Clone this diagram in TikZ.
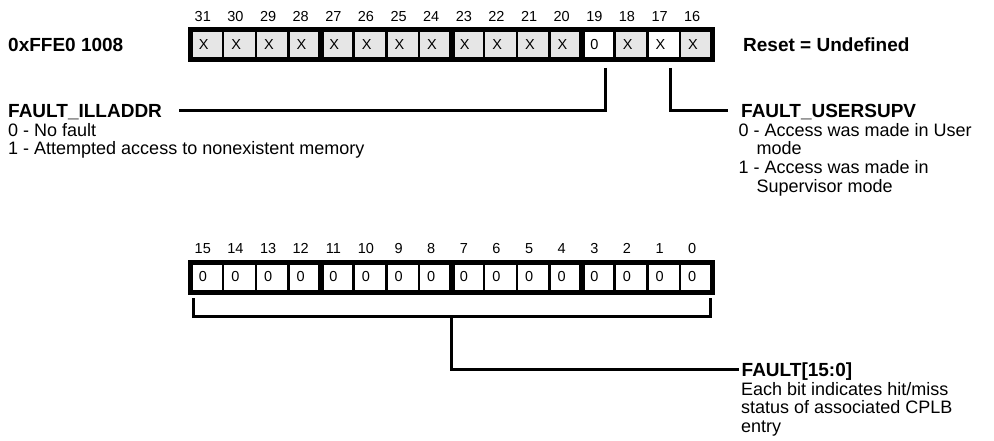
\documentclass[tikz,border=0pt]{standalone}
\usepackage{fontspec}
\setmainfont{Liberation Sans}
\usetikzlibrary{positioning, calc}
\definecolor{resgray}{RGB}{230,230,230}

\begin{document}
\begin{tikzpicture}[x=1pt, y=-1pt,
      cell/.style={draw, line width=2.5pt, outer sep=0pt, inner sep=0pt, minimum width=32.625pt, minimum height=30pt, text width=16pt, align=left, font=\fontsize{14.5}{15}\selectfont},
      bitnum/.style={inner sep=0pt, font=\fontsize{14.5}{15}\selectfont},
      nibble/.style={line width=6pt},
      regframe/.style={line width=5pt},
      conn/.style={line width=3pt},
      fieldname/.style={anchor=west, inner sep=0pt, text depth=0pt, font=\fontsize{19}{19}\selectfont\bfseries},
      desc/.style={anchor=north west, inner sep=0pt, align=left, font=\fontsize{18}{18.6}\selectfont}]
      \useasboundingbox (0,0) rectangle (994,441);
      \node[fieldname] (addr) at (8,45) {0xFFE0 1008};
      \node[fieldname] (reset) at (743,45) {Reset = Undefined};
      \foreach \b/\v/\c in {31/X/resgray, 30/X/resgray, 29/X/resgray, 28/X/resgray,
                            27/X/resgray, 26/X/resgray, 25/X/resgray, 24/X/resgray,
                            23/X/resgray, 22/X/resgray, 21/X/resgray, 20/X/resgray,
                            19/0/white, 18/X/resgray, 17/X/white, 16/X/resgray} {
        \node[cell, fill=\c] (t\b) at ({190.5+(31-\b+0.5)*32.625},45) {\v};
        \node[bitnum, above=8pt of t\b, xshift=-4pt] (tn\b) {\b};
      }
      \foreach \b in {15,...,0} {
        \node[cell, fill=white] (b\b) at ({190.5+(15-\b+0.5)*32.625},277) {0};
        \node[bitnum, above=8pt of b\b, xshift=-4pt] (bn\b) {\b};
      }
      \foreach \b in {28,24,20} \draw[nibble] (t\b.north east) -- (t\b.south east);
      \foreach \b in {12,8,4} \draw[nibble] (b\b.north east) -- (b\b.south east);
      \draw[regframe] (t31.north west) rectangle (t16.south east);
      \draw[regframe] (b15.north west) rectangle (b0.south east);

      \node[fieldname] (illaddr) at (8,110.5) {FAULT\_ILLADDR};
      \node[desc] (illdesc) at (8,123) {0 - No fault\\1 - Attempted access to nonexistent memory};
      \node[fieldname] (usersupv) at (741,110.5) {FAULT\_USERSUPV};
      \node[desc] (userdesc) at (738.5,123) {0 - Access was made in User\\\hspace*{18pt}mode\\1 - Access was made in\\\hspace*{18pt}Supervisor mode};
      \node[fieldname] (fault) at (741.5,369.5) {FAULT[15:0]};
      \node[desc] (faultdesc) at (741,382) {Each bit indicates hit/miss\\status of associated CPLB\\entry};

      \draw[conn, shorten <=8pt, shorten >=16.5pt] ($(t19.south)!0.45!(t19.south east)$) |- (illaddr.east);
      \draw[conn, shorten <=8pt, shorten >=13pt] ($(t17.south)!0.4!(t17.south east)$) |- (usersupv.west);
      \coordinate (bl) at ([xshift=2.5pt, yshift=-24pt]b15.south west);
      \coordinate (br) at ([xshift=-2pt, yshift=-24pt]b0.south east);
      \draw[conn] ([xshift=2.5pt, yshift=-6pt]b15.south west) -- (bl) -- (br) -- ([xshift=-2pt, yshift=-6pt]b0.south east);
      \draw[conn, shorten >=2.5pt] ($(bl)!0.5!(br)$) |- (fault.west);
    \end{tikzpicture}
\end{document}
